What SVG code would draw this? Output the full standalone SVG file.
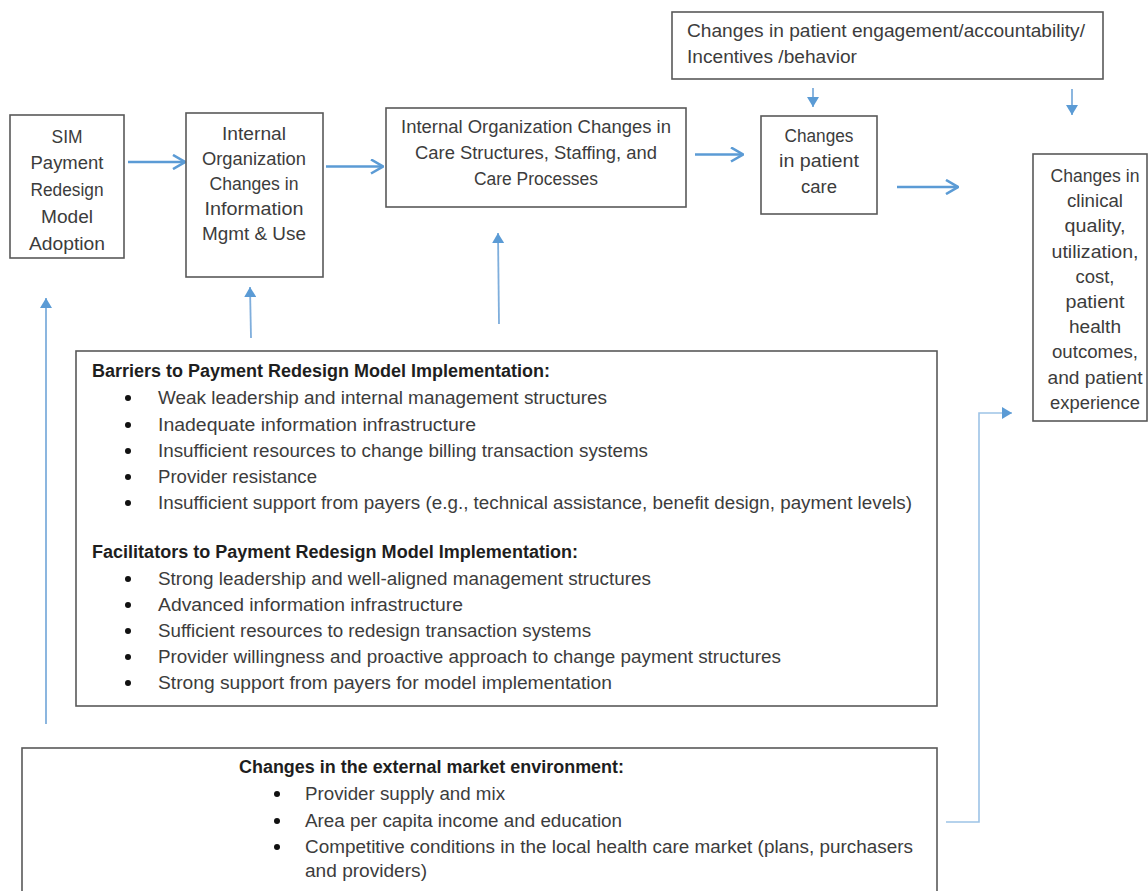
<svg xmlns="http://www.w3.org/2000/svg" width="1148" height="891" viewBox="0 0 1148 891">
<style>
.box{fill:#fff;stroke:#595959;stroke-width:1.6}
.t{font-family:"Liberation Sans",Arial,sans-serif;font-size:17.5px;fill:#3c3c3c}
.c{text-anchor:middle}
.b{font-weight:bold;fill:#1e1e1e}
.thick{stroke:#5B9BD5;stroke-width:2.6;fill:none}
.thin{stroke:#7FAEDC;stroke-width:1.8;fill:none}
.elbow{stroke:#9DC3E6;stroke-width:1.6;fill:none}
.dot{fill:#111}
</style>
<defs>
<marker id="open" viewBox="0 0 14 16" refX="13" refY="8" markerWidth="14" markerHeight="16" markerUnits="userSpaceOnUse" orient="auto">
<path d="M1,1 L13,8 L1,15" fill="none" stroke="#5B9BD5" stroke-width="2.6"/>
</marker>
<marker id="tri" viewBox="0 0 10 12" refX="10" refY="6" markerWidth="10" markerHeight="12" markerUnits="userSpaceOnUse" orient="auto">
<path d="M0,0 L10,6 L0,12 z" fill="#5B9BD5"/>
</marker>
</defs>

<g id="connectors">
<line class="thick" x1="128" y1="162" x2="185" y2="162" marker-end="url(#open)"/>
<line class="thick" x1="326" y1="166.5" x2="383" y2="166.5" marker-end="url(#open)"/>
<line class="thick" x1="695" y1="154.5" x2="743" y2="154.5" marker-end="url(#open)"/>
<line class="thick" x1="897" y1="187" x2="958" y2="187" marker-end="url(#open)"/>
<line class="thin" x1="813" y1="88" x2="813" y2="107" marker-end="url(#tri)"/>
<line class="thin" x1="1072" y1="89" x2="1072" y2="115" marker-end="url(#tri)"/>
<line class="thin" x1="46" y1="724" x2="46" y2="298" marker-end="url(#tri)"/>
<line class="thin" x1="251" y1="338" x2="250" y2="287" marker-end="url(#tri)"/>
<line class="thin" x1="499" y1="324" x2="498" y2="233" marker-end="url(#tri)"/>
<polyline class="elbow" points="946,822 979,822 979,413 1012,413" marker-end="url(#tri)"/>
</g>

<g id="sim">
<rect class="box" x="10" y="115" width="114" height="143"/>
<text class="t c" x="67" y="143" textLength="31" lengthAdjust="spacingAndGlyphs">SIM</text>
<text class="t c" x="67" y="169" textLength="73" lengthAdjust="spacingAndGlyphs">Payment</text>
<text class="t c" x="67" y="196" textLength="73" lengthAdjust="spacingAndGlyphs">Redesign</text>
<text class="t c" x="67" y="223" textLength="52" lengthAdjust="spacingAndGlyphs">Model</text>
<text class="t c" x="67" y="250" textLength="76" lengthAdjust="spacingAndGlyphs">Adoption</text>
</g>

<g id="info">
<rect class="box" x="186" y="113" width="137" height="164"/>
<text class="t c" x="254" y="140" textLength="64" lengthAdjust="spacingAndGlyphs">Internal</text>
<text class="t c" x="254" y="165" textLength="104" lengthAdjust="spacingAndGlyphs">Organization</text>
<text class="t c" x="254" y="190" textLength="89" lengthAdjust="spacingAndGlyphs">Changes in</text>
<text class="t c" x="254" y="215" textLength="99" lengthAdjust="spacingAndGlyphs">Information</text>
<text class="t c" x="254" y="240" textLength="104" lengthAdjust="spacingAndGlyphs">Mgmt &amp; Use</text>
</g>

<g id="care">
<rect class="box" x="386" y="108" width="300" height="99"/>
<text class="t c" x="536" y="133" textLength="270" lengthAdjust="spacingAndGlyphs">Internal Organization Changes in</text>
<text class="t c" x="536" y="159" textLength="242" lengthAdjust="spacingAndGlyphs">Care Structures, Staffing, and</text>
<text class="t c" x="536" y="185" textLength="124" lengthAdjust="spacingAndGlyphs">Care Processes</text>
</g>

<g id="engagement">
<rect class="box" x="672" y="12" width="431" height="67"/>
<text class="t" x="687" y="37" textLength="398" lengthAdjust="spacingAndGlyphs">Changes in patient engagement/accountability/</text>
<text class="t" x="687" y="63" textLength="170" lengthAdjust="spacingAndGlyphs">Incentives /behavior</text>
</g>

<g id="patientcare">
<rect class="box" x="761" y="116" width="116" height="98"/>
<text class="t c" x="819" y="142" textLength="69" lengthAdjust="spacingAndGlyphs">Changes</text>
<text class="t c" x="819" y="167" textLength="80" lengthAdjust="spacingAndGlyphs">in patient</text>
<text class="t c" x="819" y="193" textLength="36" lengthAdjust="spacingAndGlyphs">care</text>
</g>

<g id="outcomes">
<rect class="box" x="1033" y="154" width="114" height="267"/>
<text class="t c" x="1095" y="182" textLength="89" lengthAdjust="spacingAndGlyphs">Changes in</text>
<text class="t c" x="1095" y="207" textLength="56" lengthAdjust="spacingAndGlyphs">clinical</text>
<text class="t c" x="1095" y="232" textLength="61" lengthAdjust="spacingAndGlyphs">quality,</text>
<text class="t c" x="1095" y="258" textLength="87" lengthAdjust="spacingAndGlyphs">utilization,</text>
<text class="t c" x="1095" y="283" textLength="39" lengthAdjust="spacingAndGlyphs">cost,</text>
<text class="t c" x="1095" y="308" textLength="59" lengthAdjust="spacingAndGlyphs">patient</text>
<text class="t c" x="1095" y="333" textLength="52" lengthAdjust="spacingAndGlyphs">health</text>
<text class="t c" x="1095" y="358" textLength="86" lengthAdjust="spacingAndGlyphs">outcomes,</text>
<text class="t c" x="1095" y="384" textLength="95" lengthAdjust="spacingAndGlyphs">and patient</text>
<text class="t c" x="1095" y="409" textLength="90" lengthAdjust="spacingAndGlyphs">experience</text>
</g>

<g id="barriers">
<rect class="box" x="76" y="351" width="861" height="355"/>
<text class="t b" x="92" y="377" textLength="458" lengthAdjust="spacingAndGlyphs">Barriers to Payment Redesign Model Implementation:</text>
<circle class="dot" cx="128" cy="398" r="3"/>
<text class="t" x="158" y="404" textLength="449" lengthAdjust="spacingAndGlyphs">Weak leadership and internal management structures</text>
<circle class="dot" cx="128" cy="425" r="3"/>
<text class="t" x="158" y="431" textLength="318" lengthAdjust="spacingAndGlyphs">Inadequate information infrastructure</text>
<circle class="dot" cx="128" cy="451" r="3"/>
<text class="t" x="158" y="457" textLength="490" lengthAdjust="spacingAndGlyphs">Insufficient resources to change billing transaction systems</text>
<circle class="dot" cx="128" cy="477" r="3"/>
<text class="t" x="158" y="483" textLength="159" lengthAdjust="spacingAndGlyphs">Provider resistance</text>
<circle class="dot" cx="128" cy="503" r="3"/>
<text class="t" x="158" y="509" textLength="754" lengthAdjust="spacingAndGlyphs">Insufficient support from payers (e.g., technical assistance, benefit design, payment levels)</text>
<text class="t b" x="92" y="558" textLength="486" lengthAdjust="spacingAndGlyphs">Facilitators to Payment Redesign Model Implementation:</text>
<circle class="dot" cx="128" cy="579" r="3"/>
<text class="t" x="158" y="585" textLength="493" lengthAdjust="spacingAndGlyphs">Strong leadership and well-aligned management structures</text>
<circle class="dot" cx="128" cy="605" r="3"/>
<text class="t" x="158" y="611" textLength="305" lengthAdjust="spacingAndGlyphs">Advanced information infrastructure</text>
<circle class="dot" cx="128" cy="631" r="3"/>
<text class="t" x="158" y="637" textLength="433" lengthAdjust="spacingAndGlyphs">Sufficient resources to redesign transaction systems</text>
<circle class="dot" cx="128" cy="657" r="3"/>
<text class="t" x="158" y="663" textLength="623" lengthAdjust="spacingAndGlyphs">Provider willingness and proactive approach to change payment structures</text>
<circle class="dot" cx="128" cy="683" r="3"/>
<text class="t" x="158" y="689" textLength="454" lengthAdjust="spacingAndGlyphs">Strong support from payers for model implementation</text>
</g>

<g id="external">
<rect class="box" x="22" y="748" width="915" height="160"/>
<text class="t b" x="239" y="773" textLength="385" lengthAdjust="spacingAndGlyphs">Changes in the external market environment:</text>
<circle class="dot" cx="277" cy="794" r="3"/>
<text class="t" x="305" y="800" textLength="200" lengthAdjust="spacingAndGlyphs">Provider supply and mix</text>
<circle class="dot" cx="277" cy="821" r="3"/>
<text class="t" x="305" y="827" textLength="317" lengthAdjust="spacingAndGlyphs">Area per capita income and education</text>
<circle class="dot" cx="277" cy="847" r="3"/>
<text class="t" x="305" y="853" textLength="608" lengthAdjust="spacingAndGlyphs">Competitive conditions in the local health care market (plans, purchasers</text>
<text class="t" x="305" y="877" textLength="122" lengthAdjust="spacingAndGlyphs">and providers)</text>
</g>
</svg>
